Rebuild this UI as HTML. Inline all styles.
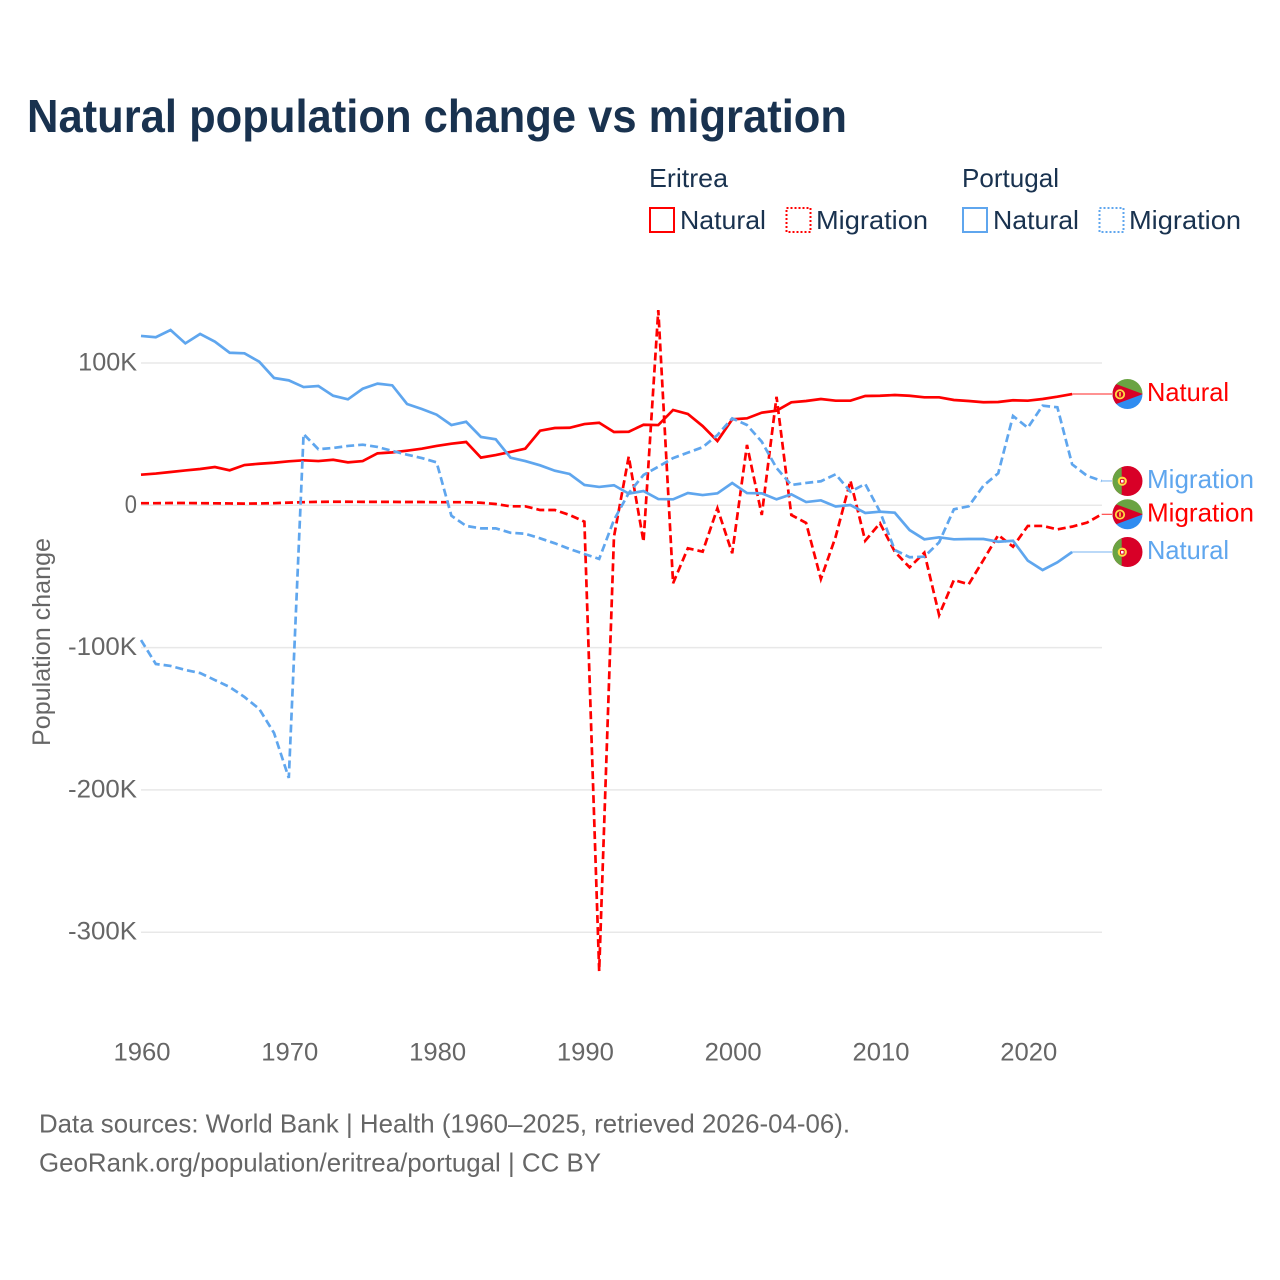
<!DOCTYPE html>
<html lang="en">
<head>
<meta charset="utf-8">
<title>Natural population change vs migration</title>
<style>
html,body{margin:0;padding:0;background:#fff;}
svg{display:block;font-family:"Liberation Sans",sans-serif;}
</style>
</head>
<body>
<svg id="chart" width="1280" height="1280" viewBox="0 0 1280 1280" xmlns="http://www.w3.org/2000/svg">
  <defs>
    <clipPath id="flag-clip"><circle cx="0" cy="0" r="15"></circle></clipPath>
  </defs>
  <rect width="1280" height="1280" fill="#fff"></rect>
  <text x="27" y="132" font-size="46" font-weight="700" fill="#19324f" textLength="820" lengthAdjust="spacingAndGlyphs">Natural population change vs migration</text>

  <g font-size="26" fill="#19324f">
    <text x="649" y="187" textLength="79" lengthAdjust="spacingAndGlyphs">Eritrea</text>
    <text x="962" y="187" textLength="97" lengthAdjust="spacingAndGlyphs">Portugal</text>
    <rect x="650" y="208" width="24" height="24" fill="none" stroke="#ff0000" stroke-width="2"></rect>
    <text x="680" y="229" textLength="86" lengthAdjust="spacingAndGlyphs">Natural</text>
    <rect x="786.5" y="208" width="24" height="24" fill="none" stroke="#ff0000" stroke-width="2" stroke-dasharray="2 2"></rect>
    <text x="816" y="229" textLength="112" lengthAdjust="spacingAndGlyphs">Migration</text>
    <rect x="963" y="208" width="24" height="24" fill="none" stroke="#5fa6ee" stroke-width="2"></rect>
    <text x="993" y="229" textLength="86" lengthAdjust="spacingAndGlyphs">Natural</text>
    <rect x="1099.5" y="208" width="24" height="24" fill="none" stroke="#5fa6ee" stroke-width="2" stroke-dasharray="2 2"></rect>
    <text x="1129" y="229" textLength="112" lengthAdjust="spacingAndGlyphs">Migration</text>
  </g>

  <g id="grid"></g>
  <g id="y-ticks" font-size="25" fill="#666666"></g>
  <g id="x-ticks" font-size="25" fill="#666666"></g>
  <text transform="translate(50 746) rotate(-90)" font-size="25" fill="#666666" textLength="208" lengthAdjust="spacingAndGlyphs">Population change</text>

  <g id="leaders"></g>
  <g id="series"></g>
  <g id="end-labels"></g>

  <g font-size="26" fill="#666666">
    <text x="39" y="1132.5" textLength="811" lengthAdjust="spacingAndGlyphs">Data sources: World Bank | Health (1960–2025, retrieved 2026-04-06).</text>
    <text x="39" y="1171.5" textLength="562" lengthAdjust="spacingAndGlyphs">GeoRank.org/population/eritrea/portugal | CC BY</text>
  </g>
</svg>
<script>
const startYear = 1960;
const yTickValues = [100, 0, -100, -200, -300];
const yTickLabels = ["100K", "0", "-100K", "-200K", "-300K"];
const xTickValues = [1960, 1970, 1980, 1990, 2000, 2010, 2020];
const xTickLabels = ["1960", "1970", "1980", "1990", "2000", "2010", "2020"];

const eritreaNatural = [
  21.5, 22.3, 23.4, 24.5, 25.5, 26.9, 24.6, 28.3, 29.2, 29.9,
  30.9, 31.6, 31.1, 32.0, 30.2, 31.1, 36.5, 37.2, 38.4, 39.8,
  41.7, 43.3, 44.5, 33.5, 35.3, 37.5, 39.8, 52.4, 54.3, 54.5,
  57.1, 58.0, 51.5, 51.7, 56.6, 56.4, 67.0, 64.2, 55.7, 45.2,
  60.4, 61.1, 65.1, 66.5, 72.4, 73.3, 74.7, 73.5, 73.5, 76.8,
  77.0, 77.5, 77.0, 75.9, 75.9, 74.0, 73.3, 72.4, 72.6, 73.8,
  73.5, 74.7, 76.3, 78.2
];
const eritreaMigration = [
  1.5, 1.5, 1.6, 1.6, 1.5, 1.4, 1.3, 1.2, 1.3, 1.5,
  1.9, 2.2, 2.4, 2.5, 2.5, 2.4, 2.4, 2.4, 2.3, 2.3,
  2.2, 2.2, 2.2, 1.8, 0.9, -0.7, -0.7, -3.3, -3.3, -6.8,
  -11.5, -327.3, -22.1, 34.2, -25.6, 137.2, -54.8, -30.2, -32.6, -2.1,
  -33.7, 42.4, -6.8, 76.3, -6.8, -12.4, -51.8, -22.1, 17.3, -24.9,
  -12.6, -32.6, -43.6, -33.3, -77.1, -52.5, -55.5, -38.4, -20.9, -29.1,
  -14.5, -14.5, -16.9, -15.0, -12.2, -6.3
];
const portugalNatural = [
  119.0, 118.1, 123.2, 113.8, 120.4, 115.0, 107.2, 106.8, 100.9, 89.5,
  87.8, 83.1, 83.8, 77.0, 74.5, 81.9, 85.5, 84.3, 71.2, 67.7,
  63.7, 56.4, 58.7, 48.0, 46.4, 33.5, 31.1, 28.1, 24.3, 22.0,
  14.3, 12.9, 14.1, 8.2, 10.0, 4.4, 4.2, 8.6, 7.2, 8.4,
  15.7, 8.6, 8.4, 4.2, 7.7, 2.3, 3.5, -0.8, 0.2, -5.4,
  -4.5, -5.2, -17.4, -23.9, -22.5, -23.9, -23.7, -23.7, -25.6, -24.9,
  -38.9, -45.5, -40.1, -32.8
];
const portugalMigration = [
  -94.7, -111.5, -112.9, -115.7, -117.9, -122.8, -127.7, -134.7, -143.1, -160.0,
  -191.6, 50.1, 39.4, 40.3, 41.7, 42.6, 41.0, 38.2, 35.6, 33.2,
  30.2, -7.3, -14.5, -16.2, -16.2, -19.3, -20.0, -23.2, -26.7, -30.7,
  -34.2, -37.7, -10.3, 8.6, 21.3, 27.1, 33.2, 37.0, 40.8, 49.4,
  61.1, 56.4, 44.7, 26.2, 14.3, 15.7, 16.9, 21.8, 9.6, 15.0,
  -4.5, -31.4, -36.5, -36.1, -26.0, -2.8, -0.7, 13.8, 22.5, 62.8,
  54.5, 70.0, 68.9, 28.8, 20.8, 17.1
];

const NS = 'http://www.w3.org/2000/svg';
const RED = '#ff0000';
const BLUE = '#5fa6ee';
function xScale(year) { return 141 + (year - 1960) * 14.78; }
function yScale(value) { return 505.3 - value * 1.423; }
function make(tag, parent, attrs) {
  const el = document.createElementNS(NS, tag);
  for (const k in attrs) el.setAttribute(k, attrs[k]);
  parent.appendChild(el);
  return el;
}
const gridG = document.getElementById('grid');
const yG = document.getElementById('y-ticks');
const xG = document.getElementById('x-ticks');
const leadersG = document.getElementById('leaders');
const seriesG = document.getElementById('series');
const labelsG = document.getElementById('end-labels');

yTickValues.forEach(function (v, i) {
  const line = make('line', gridG, { x1: 141, x2: 1102, y1: yScale(v), y2: yScale(v), stroke: '#e8e8e8', 'stroke-width': 1.5 });
  
  
  const label = make('text', yG, { x: 137, y: yScale(v) + 7.5, 'text-anchor': 'end', textLength: yTickLabels[i].length * 14.2 - (yTickLabels[i].length > 1 && yTickLabels[i][0] !== '-' ? -2 : 2), lengthAdjust: 'spacingAndGlyphs' });
  label.textContent = yTickLabels[i];
  
  
});
xTickValues.forEach(function (yr, i) {
  const label = make('text', xG, { x: xScale(yr) + 1, y: 1060.5, 'text-anchor': 'middle', textLength: 57, lengthAdjust: 'spacingAndGlyphs' });
  label.textContent = xTickLabels[i];
  
  
});

function linePath(values) {
  return values.map(function (v, i) {
    return (i ? 'L' : 'M') + xScale(startYear + i).toFixed(2) + ' ' + yScale(v).toFixed(2);
  }).join(' ');
}
function drawSeries(values, color, dashed, name) {
  const p = make('path', seriesG, { d: linePath(values), fill: 'none', stroke: color, 'stroke-width': 2.7, 'stroke-linejoin': 'miter' });
  if (dashed) p.setAttribute('stroke-dasharray', '8 4');
  
  
}
drawSeries(eritreaNatural, RED, false, 'line-eritrea-natural');
drawSeries(eritreaMigration, RED, true, 'line-eritrea-migration');
drawSeries(portugalNatural, BLUE, false, 'line-portugal-natural');
drawSeries(portugalMigration, BLUE, true, 'line-portugal-migration');

function eritreaFlag(g) {
  make('rect', g, { x: -16, y: -16, width: 32, height: 16, fill: '#6aa342' });
  make('rect', g, { x: -16, y: 0, width: 32, height: 16, fill: '#2f8cf0' });
  make('polygon', g, { points: '-15.5,-11.5 15.5,0 -15.5,11.5', fill: '#d80027' });
  make('circle', g, { cx: -7.5, cy: 0.3, r: 4.2, fill: 'none', stroke: '#ffda44', 'stroke-width': 1.8 });
  make('rect', g, { x: -8.3, y: -2, width: 1.6, height: 4.5, fill: '#ffda44' });
}
function portugalFlag(g) {
  make('rect', g, { x: -16, y: -16, width: 32, height: 32, fill: '#d80027' });
  make('rect', g, { x: -16, y: -16, width: 10.2, height: 32, fill: '#6aa342' });
  make('circle', g, { cx: -5.2, cy: 0.2, r: 4.6, fill: '#ffda44' });
  make('rect', g, { x: -7, y: -1.6, width: 3.6, height: 3.8, rx: 1, fill: '#fff', stroke: '#d80027', 'stroke-width': 1 });
}
function drawEnd(values, color, text, flag, name, width) {
  const lastIndex = values.length - 1;
  const lx = xScale(startYear + lastIndex);
  const ly = yScale(values[lastIndex]);
  const leader = make('line', leadersG, { x1: lx, y1: ly, x2: 1112, y2: ly, stroke: color, 'stroke-width': 1, 'stroke-opacity': 0.85 });
  
  
  const g = make('g', labelsG, { transform: 'translate(1127.5 ' + ly + ')' });
  
  
  const inner = make('g', g, { 'clip-path': 'url(#flag-clip)' });
  flag(inner);
  const label = make('text', labelsG, { x: 1147, y: ly + 7, 'font-size': 26, fill: color, textLength: width, lengthAdjust: 'spacingAndGlyphs' });
  label.textContent = text;
  
  
}
drawEnd(eritreaNatural, RED, 'Natural', eritreaFlag, 'eritrea-natural', 82);
drawEnd(portugalMigration, BLUE, 'Migration', portugalFlag, 'portugal-migration', 107);
drawEnd(eritreaMigration, RED, 'Migration', eritreaFlag, 'eritrea-migration', 107);
drawEnd(portugalNatural, BLUE, 'Natural', portugalFlag, 'portugal-natural', 82);
</script>
</body>
</html>
